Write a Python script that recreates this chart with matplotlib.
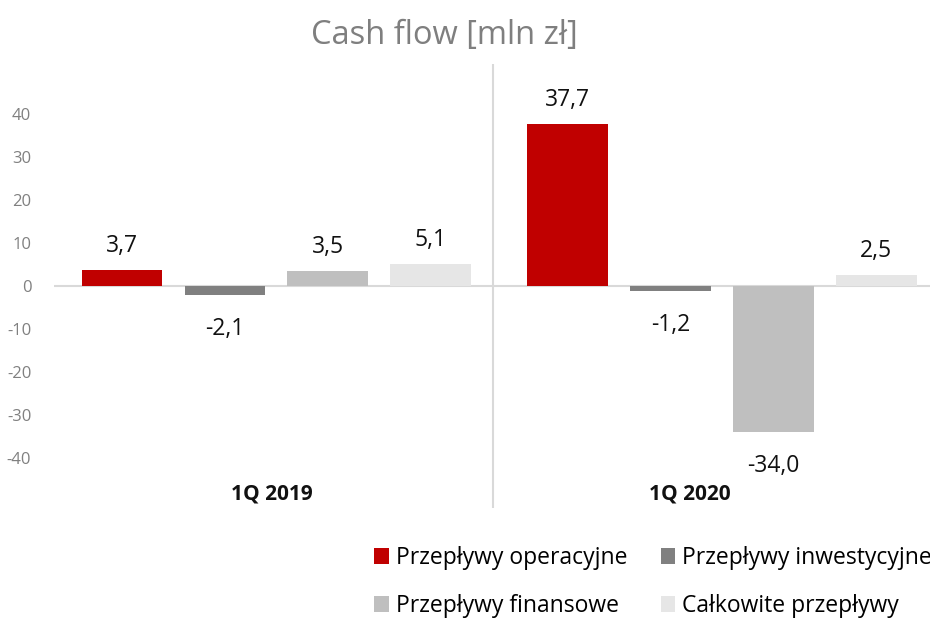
import matplotlib.pyplot as plt
import numpy as np
from matplotlib.patches import Patch

plt.rcParams['font.family'] = ['Open Sans', 'DejaVu Sans']

# data
quarters = ["1Q 2019", "1Q 2020"]
series = ["Przepływy operacyjne", "Przepływy inwestycyjne", "Przepływy finansowe", "Całkowite przepływy"]
operacyjne = [3.7, 37.7]
inwestycyjne = [-2.1, -1.2]
finansowe = [3.5, -34.0]
calkowite = [5.1, 2.5]
yticks = [-40, -30, -20, -10, 0, 10, 20, 30, 40]

colors = ["#C00000", "#808080", "#BFBFBF", "#E6E6E6"]
values = [operacyjne, inwestycyjne, finansowe, calkowite]

fig = plt.figure(figsize=(9.3, 6.2), dpi=100)
# plot area runs past the right edge of the picture (chart is cropped there)
ax = fig.add_axes([53.5 / 930, 1 - 508 / 620, 891.4 / 930, 444 / 620])

x = np.arange(len(quarters))
step = 0.2307
width = 0.181
for i, (vals, col) in enumerate(zip(values, colors)):
    pos = x + (i - 1.5) * step
    ax.bar(pos, vals, width, color=col, zorder=3)
    for p, v in zip(pos, vals):
        label = f"{v:.1f}".replace(".", ",")
        off = 24 if v >= 0 else -34
        ax.annotate(label, (p, v), xytext=(0, off), textcoords="offset pixels",
                    ha="center", va="center", fontsize=16.5, color="#111111")

ax.set_xlim(-0.5, 1.5)
ax.set_ylim(-51.6, 51.6)
ax.axhline(0, color="#D9D9D9", lw=1.5, zorder=2)
ax.axvline(0.486, color="#D9D9D9", lw=1.5, zorder=1)

ax.set_yticks(yticks)
ax.set_yticklabels([str(t) for t in yticks], fontsize=12, color="#808080")
ax.tick_params(axis="y", length=0, pad=16)
ax.set_xticks([])
for s in ax.spines.values():
    s.set_visible(False)

# category labels sit at the bottom of the plot area
label_x = [-0.011, 0.927]
for lx, q in zip(label_x, quarters):
    ax.text(lx, -48.4, q, ha="center", va="center", fontsize=15, fontweight="bold", color="#111111")

fig.text(444 / 930, 1 - 44 / 620, "Cash flow [mln zł]", ha="center", va="baseline", fontsize=23.5, color="#7F7F7F")

# legend filled column-first, so reorder to get rows: operacyjne/inwestycyjne, finansowe/calkowite
order = [0, 2, 1, 3]
handles = [Patch(facecolor=colors[k], edgecolor="none") for k in order]
labels = [series[k] for k in order]
fig.legend(handles, labels, loc="upper left", bbox_to_anchor=(374 / 930, 1 - 546 / 620), ncol=2,
           frameon=False, fontsize=16.5, handlelength=0.65, handleheight=0.65, handletextpad=0.3,
           columnspacing=1.45, labelspacing=1.05, borderaxespad=0, borderpad=0)

fig.savefig("out.png", dpi=100)
